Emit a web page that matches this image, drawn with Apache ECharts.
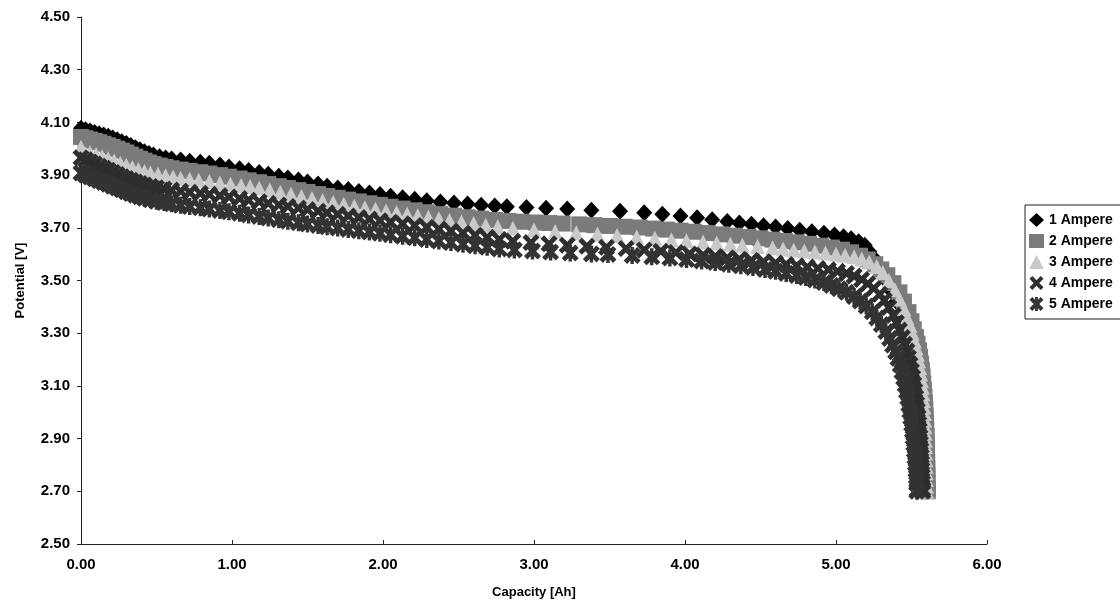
<!DOCTYPE html>
<html>
<head>
<meta charset="utf-8">
<script src="https://cdn.jsdelivr.net/npm/echarts@6/dist/echarts.min.js"></script>
<style>
html,body{margin:0;padding:0;background:#fff;}
#chart{width:1120px;height:604px;}
</style>
</head>
<body>
<div id="chart"></div>
<script>
// ---- data: [capacity Ah, potential V] ----
const seriesNames = ['1 Ampere', '2 Ampere', '3 Ampere', '4 Ampere', '5 Ampere'];
const xTicks = [0, 1, 2, 3, 4, 5, 6];
const yTicks = [2.5, 2.7, 2.9, 3.1, 3.3, 3.5, 3.7, 3.9, 4.1, 4.3, 4.5];

const amp1 = [[0,4.078],[0.03,4.072],[0.06,4.067],[0.09,4.062],[0.12,4.057],[0.15,4.052],[0.18,4.047],[0.21,4.041],[0.24,4.034],[0.27,4.027],[0.30,4.020],[0.33,4.012],[0.36,4.004],[0.39,3.996],[0.42,3.989],[0.45,3.982],[0.48,3.976],[0.52,3.970],[0.56,3.965],[0.60,3.961],
[0.66,3.957],[0.72,3.953],[0.79,3.949],[0.85,3.945],[0.92,3.938],[0.98,3.931],[1.05,3.924],[1.11,3.917],[1.18,3.910],[1.24,3.903],[1.31,3.896],[1.37,3.889],[1.44,3.881],[1.50,3.874],[1.57,3.866],[1.63,3.858],[1.70,3.851],[1.77,3.845],[1.84,3.838],[1.91,3.832],[1.98,3.826],[2.05,3.820],[2.13,3.814],[2.21,3.808],[2.29,3.803],[2.38,3.798],[2.47,3.794],[2.56,3.790],[2.65,3.786],[2.74,3.783],
[2.82,3.780],[2.95,3.777],[3.08,3.774],[3.22,3.771],[3.38,3.767],[3.57,3.763],[3.73,3.757],[3.85,3.751],[3.97,3.745],[4.08,3.738],[4.18,3.731],[4.28,3.724],[4.36,3.718],[4.44,3.713],[4.52,3.708],[4.60,3.703],[4.68,3.697],[4.76,3.691],[4.84,3.685],[4.92,3.679],[4.99,3.673],[5.05,3.666],[5.10,3.658],[5.15,3.647],[5.19,3.634],
[5.22,3.610],[5.25,3.585],[5.28,3.557],[5.31,3.527],[5.34,3.494],[5.37,3.458],[5.40,3.420],[5.43,3.378],[5.46,3.332],[5.48,3.295],[5.50,3.252],[5.52,3.205],[5.54,3.150],[5.555,3.095],[5.565,3.040],[5.575,2.980],[5.58,2.920],[5.585,2.860],[5.59,2.800],[5.593,2.740],[5.595,2.700]];

const amp2 = [[0,4.045],[0.03,4.040],[0.06,4.035],[0.09,4.030],[0.12,4.025],[0.15,4.019],[0.18,4.013],[0.21,4.007],[0.24,4.000],[0.27,3.993],[0.30,3.986],[0.33,3.978],[0.36,3.970],[0.39,3.962],[0.42,3.955],[0.45,3.948],[0.48,3.942],[0.52,3.936],[0.56,3.931],[0.60,3.926],
[0.66,3.921],[0.72,3.916],[0.79,3.911],[0.85,3.906],[0.92,3.900],[0.98,3.894],[1.05,3.887],[1.11,3.880],[1.18,3.873],[1.24,3.866],[1.31,3.858],[1.37,3.851],[1.44,3.843],[1.50,3.836],[1.57,3.828],[1.63,3.821],[1.70,3.814],[1.77,3.807],[1.84,3.800],[1.91,3.793],[1.98,3.787],[2.05,3.780],[2.13,3.773],[2.21,3.766],[2.29,3.759],[2.38,3.752],[2.47,3.746],[2.56,3.740],[2.65,3.735],[2.74,3.730],
[2.83,3.726],[2.92,3.723],[3.01,3.720],[3.10,3.718],[3.19,3.716],[3.30,3.713],[3.40,3.710],[3.50,3.707],[3.60,3.704],[3.70,3.701],[3.79,3.697],[3.88,3.693],[3.97,3.689],[4.06,3.685],[4.15,3.680],[4.24,3.675],[4.33,3.670],[4.42,3.665],[4.50,3.660],[4.58,3.655],[4.66,3.650],[4.74,3.645],[4.82,3.639],[4.90,3.632],[4.97,3.625],[5.04,3.617],[5.10,3.607],[5.16,3.594],[5.21,3.580],[5.26,3.562],[5.30,3.542],
[5.34,3.520],[5.38,3.490],[5.42,3.455],[5.45,3.420],[5.48,3.380],[5.50,3.345],[5.515,3.315],[5.53,3.285],[5.54,3.260],[5.55,3.235],[5.557,3.210],[5.563,3.185],[5.569,3.160],[5.574,3.135],[5.578,3.110],[5.582,3.085],[5.586,3.060],[5.589,3.035],[5.592,3.010],[5.594,2.985],[5.596,2.960],[5.598,2.935],[5.600,2.910],[5.601,2.885],[5.602,2.860],[5.603,2.835],[5.604,2.810],[5.605,2.785],[5.606,2.760],[5.607,2.735],[5.608,2.710],[5.608,2.700]];

const amp3 = [[0,4.006],[0.06,3.985],[0.10,3.978],[0.14,3.970],[0.18,3.962],[0.22,3.954],[0.26,3.945],[0.30,3.937],[0.34,3.929],[0.38,3.921],[0.42,3.914],[0.46,3.908],[0.51,3.903],[0.56,3.898],[0.61,3.893],[0.66,3.888],[0.72,3.884],[0.78,3.880],[0.85,3.876],[0.92,3.870],[0.99,3.865],[1.06,3.861],[1.12,3.857],[1.18,3.851],[1.25,3.843],[1.32,3.835],[1.39,3.827],[1.46,3.819],[1.53,3.811],[1.60,3.803],[1.67,3.796],[1.74,3.789],[1.81,3.782],[1.88,3.776],[1.95,3.770],[2.02,3.764],[2.09,3.758],[2.16,3.752],[2.23,3.746],[2.30,3.740],[2.37,3.734],[2.44,3.728],[2.52,3.722],[2.60,3.716],[2.68,3.710],[2.76,3.704],
[2.86,3.698],[3.00,3.692],[3.14,3.686],[3.28,3.681],[3.42,3.676],[3.55,3.671],[3.68,3.665],[3.80,3.660],[3.91,3.655],[4.01,3.651],[4.12,3.646],[4.21,3.642],[4.30,3.638],[4.38,3.634],[4.48,3.629],[4.58,3.624],[4.65,3.620],[4.72,3.616],[4.79,3.612],[4.86,3.608],[4.93,3.604],[5.00,3.600],[5.06,3.596],[5.12,3.590],[5.17,3.582],[5.22,3.570],[5.27,3.553],
[5.31,3.530],[5.35,3.500],[5.39,3.465],[5.42,3.430],[5.45,3.393],[5.47,3.360],[5.49,3.330],[5.505,3.300],[5.52,3.270],[5.53,3.245],[5.54,3.220],[5.548,3.195],[5.555,3.170],[5.561,3.145],[5.567,3.120],[5.572,3.095],[5.576,3.070],[5.58,3.045],[5.583,3.020],[5.586,2.995],[5.588,2.970],[5.59,2.945],[5.592,2.920],[5.593,2.895],[5.594,2.870],[5.595,2.845],[5.596,2.820],[5.597,2.795],[5.598,2.770],[5.599,2.745],[5.60,2.720],[5.60,2.700]];

const amp4 = [[0,3.966],[0.03,3.958],[0.06,3.950],[0.09,3.942],[0.12,3.934],[0.15,3.926],[0.18,3.918],[0.21,3.910],[0.24,3.902],[0.27,3.894],[0.30,3.887],[0.33,3.880],[0.36,3.874],[0.39,3.868],[0.42,3.862],[0.46,3.857],[0.50,3.852],[0.55,3.847],[0.60,3.843],[0.66,3.839],[0.72,3.835],[0.79,3.831],[0.85,3.827],[0.92,3.822],[0.98,3.817],[1.05,3.811],[1.11,3.805],[1.18,3.799],[1.24,3.793],[1.31,3.787],[1.37,3.781],[1.44,3.775],[1.50,3.769],[1.57,3.763],[1.63,3.757],[1.70,3.751],[1.77,3.745],[1.84,3.739],[1.91,3.733],[1.98,3.727],[2.05,3.721],[2.13,3.715],[2.21,3.709],[2.29,3.702],[2.37,3.695],[2.45,3.688],[2.53,3.680],[2.61,3.672],[2.69,3.664],[2.77,3.656],
[2.86,3.649],[2.98,3.644],[3.10,3.639],[3.22,3.634],[3.35,3.630],[3.48,3.626],[3.61,3.621],[3.73,3.616],[3.84,3.611],[3.94,3.606],[4.03,3.601],[4.12,3.596],[4.20,3.591],[4.28,3.586],[4.36,3.581],[4.44,3.576],[4.52,3.571],[4.60,3.566],[4.67,3.561],[4.74,3.556],[4.81,3.551],[4.88,3.546],[4.95,3.541],[5.01,3.535],[5.07,3.527],[5.12,3.517],[5.17,3.504],[5.21,3.488],[5.25,3.470],[5.29,3.448],[5.32,3.425],[5.35,3.398],[5.38,3.368],[5.40,3.340],[5.42,3.312],[5.44,3.284],[5.455,3.258],[5.47,3.232],[5.48,3.207],[5.49,3.182],[5.50,3.157],[5.508,3.132],[5.515,3.107],[5.522,3.082],[5.528,3.057],[5.534,3.032],[5.539,3.007],[5.544,2.982],[5.548,2.957],[5.552,2.932],[5.556,2.907],[5.559,2.882],[5.562,2.857],[5.565,2.832],[5.567,2.807],[5.569,2.782],[5.571,2.757],[5.573,2.732],[5.575,2.707],[5.575,2.700]];

const amp5 = [[0,3.908],[0.03,3.900],[0.06,3.893],[0.09,3.886],[0.12,3.879],[0.15,3.872],[0.18,3.865],[0.21,3.858],[0.24,3.851],[0.27,3.844],[0.30,3.837],[0.33,3.830],[0.36,3.824],[0.39,3.818],[0.42,3.812],[0.46,3.806],[0.50,3.801],[0.55,3.796],[0.60,3.791],[0.66,3.786],[0.72,3.781],[0.79,3.776],[0.85,3.771],[0.92,3.766],[0.98,3.761],[1.05,3.755],[1.11,3.749],[1.18,3.743],[1.24,3.737],[1.31,3.731],[1.37,3.725],[1.44,3.719],[1.50,3.714],[1.57,3.709],[1.63,3.704],[1.70,3.699],[1.77,3.694],[1.84,3.689],[1.91,3.684],[1.98,3.679],[2.05,3.674],[2.13,3.668],[2.21,3.662],[2.29,3.656],[2.37,3.650],[2.45,3.644],[2.53,3.638],[2.61,3.632],[2.69,3.626],[2.77,3.620],
[2.87,3.616],[2.99,3.612],[3.11,3.608],[3.24,3.604],[3.38,3.601],[3.49,3.599],[3.65,3.595],[3.78,3.590],[3.90,3.585],[4.01,3.580],[4.11,3.574],[4.20,3.568],[4.29,3.562],[4.37,3.556],[4.45,3.549],[4.53,3.542],[4.60,3.535],[4.67,3.527],[4.74,3.519],[4.80,3.511],[4.86,3.502],[4.92,3.492],[4.97,3.481],[5.02,3.469],[5.07,3.455],[5.12,3.439],[5.16,3.422],[5.20,3.403],[5.24,3.381],[5.27,3.358],[5.30,3.333],[5.33,3.306],[5.355,3.280],[5.375,3.255],[5.395,3.230],[5.41,3.205],[5.425,3.180],[5.437,3.155],[5.448,3.130],[5.458,3.105],[5.467,3.080],[5.475,3.055],[5.482,3.030],[5.489,3.005],[5.495,2.980],[5.501,2.955],[5.506,2.930],[5.511,2.905],[5.515,2.880],[5.519,2.855],[5.523,2.830],[5.526,2.805],[5.529,2.780],[5.532,2.755],[5.534,2.730],[5.536,2.705],[5.536,2.700]];

// ---- styling ----
const xMark = 'path://M0,2 L2,0 L5,3 L8,0 L10,2 L7,5 L10,8 L8,10 L5,7 L2,10 L0,8 L3,5 Z';
const starMark = 'path://M0,2 L2,0 L5,3 L8,0 L10,2 L7,5 L10,8 L8,10 L5,7 L2,10 L0,8 L3,5 Z M4,0 L6,0 L6,10 L4,10 Z';
const seriesData = [amp1, amp2, amp3, amp4, amp5];
const symbols = ['diamond', 'rect', 'triangle', xMark, starMark];
const sizes = [[16, 17], 16, 15, 17, 17];
const colors = ['#000000', '#7b7b7b', '#c9c9c9', '#2e2e2e', '#333333'];
const FONT = '"Liberation Sans", Arial, sans-serif';

const chart = echarts.init(document.getElementById('chart'), null, {renderer: 'canvas'});
chart.setOption({
  animation: false,
  backgroundColor: '#ffffff',
  grid: {left: 81, right: 133, top: 17, bottom: 59},
  legend: {
    orient: 'vertical',
    left: 1025, top: 205,
    padding: [8, 40, 8, 4],
    itemWidth: 15, itemHeight: 14, itemGap: 7,
    borderColor: '#222', borderWidth: 1,
    textStyle: {fontFamily: FONT, fontWeight: 'bold', fontSize: 14, color: '#000'},
    data: seriesNames.map((n, i) => ({name: n, icon: symbols[i]}))
  },
  xAxis: {
    type: 'value', min: xTicks[0], max: xTicks[xTicks.length - 1], interval: 1,
    name: 'Capacity [Ah]', nameLocation: 'middle', nameGap: 42,
    nameTextStyle: {fontFamily: FONT, fontWeight: 'bold', fontSize: 13, color: '#000'},
    axisLine: {lineStyle: {color: '#222', width: 1}},
    axisTick: {inside: true, length: 4, lineStyle: {color: '#222'}},
    axisLabel: {margin: 13, fontFamily: FONT, fontWeight: 'bold', fontSize: 15, color: '#000',
      formatter: v => v.toFixed(2)},
    splitLine: {show: false}
  },
  yAxis: {
    type: 'value', min: yTicks[0], max: yTicks[yTicks.length - 1], interval: 0.2,
    name: 'Potential [V]', nameLocation: 'middle', nameGap: 54, nameRotate: 90,
    nameTextStyle: {fontFamily: FONT, fontWeight: 'bold', fontSize: 13, color: '#000'},
    axisLine: {show: true, lineStyle: {color: '#222', width: 1}},
    axisTick: {show: true, length: 4, lineStyle: {color: '#222'}},
    axisLabel: {margin: 11, fontFamily: FONT, fontWeight: 'bold', fontSize: 15, color: '#000',
      formatter: v => v.toFixed(2)},
    splitLine: {show: false}
  },
  series: seriesData.map((d, i) => ({
    name: seriesNames[i],
    type: 'scatter',
    data: d,
    symbol: symbols[i],
    symbolSize: sizes[i],
    itemStyle: {color: colors[i], opacity: 1},
    emphasis: {disabled: true},
    z: 2 + i
  }))
});
</script>
</body>
</html>
